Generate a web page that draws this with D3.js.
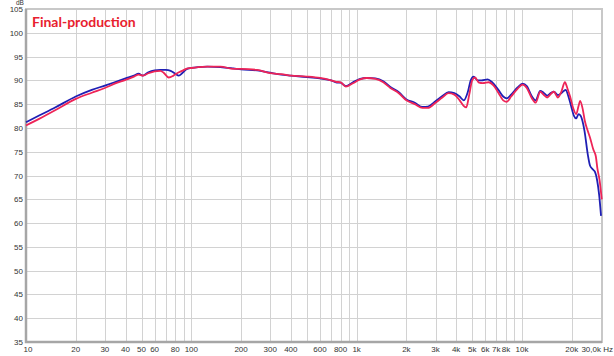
<!DOCTYPE html>
<html>
<head>
<meta charset="utf-8">
<script src="https://cdn.jsdelivr.net/npm/d3@7"></script>
<style>
  body { margin: 0; background: #fff; }
  svg { display: block; }
  .tick-label { font-family: "Liberation Sans", Arial, sans-serif; font-size: 8px; fill: #333; }
</style>
</head>
<body>
<div id="chart"></div>
<script>
// measured response, blue trace
const freqBlue = [10, 12, 15, 20, 25, 30, 35, 40, 45, 48, 51, 55, 60, 65, 70, 75, 80, 84, 88, 93, 100, 110, 125, 150, 180, 200, 250, 300, 350, 400, 500, 600, 700, 750, 800, 860, 950, 1050, 1150, 1300, 1450, 1600, 1800, 2000, 2250, 2500, 2700, 3000, 3300, 3600, 3900, 4200, 4450, 4700, 4900, 5100, 5400, 5700, 6200, 6600, 7200, 7700, 8100, 8600, 9400, 10100, 10700, 11500, 12100, 12900, 13500, 14200, 15000, 15600, 16500, 17300, 18400, 19000, 19800, 20600, 21300, 22000, 22600, 23900, 25000, 25800, 26800, 27700, 28500, 29300, 30100];
const dbBlue = [81.2, 82.6, 84.3, 86.6, 88.0, 88.9, 89.7, 90.4, 91.0, 91.4, 91.0, 91.7, 92.1, 92.2, 92.2, 92.0, 91.4, 91.0, 91.5, 92.3, 92.6, 92.8, 92.9, 92.8, 92.5, 92.3, 92.1, 91.6, 91.2, 91.0, 90.7, 90.4, 90.0, 89.6, 89.5, 88.8, 89.6, 90.3, 90.5, 90.4, 89.8, 88.6, 87.5, 86.0, 85.3, 84.4, 84.5, 85.6, 86.7, 87.5, 87.3, 86.6, 85.8, 87.5, 90.0, 90.8, 90.0, 90.0, 90.2, 89.6, 88.0, 86.6, 86.2, 87.0, 88.5, 89.3, 88.8, 86.6, 85.8, 87.8, 87.4, 86.8, 87.4, 87.6, 86.9, 87.3, 88.0, 86.9, 84.7, 82.6, 82.0, 82.9, 82.6, 79.4, 74.5, 72.1, 71.3, 70.7, 69.0, 66.0, 61.5];

// measured response, red trace
const freqRed = [10, 12, 15, 20, 25, 30, 35, 40, 45, 48, 51, 55, 60, 65, 68, 73, 78, 82, 88, 93, 100, 110, 125, 150, 180, 200, 250, 300, 350, 400, 500, 600, 700, 750, 800, 860, 950, 1050, 1150, 1300, 1450, 1600, 1800, 2000, 2250, 2500, 2700, 3000, 3300, 3600, 3900, 4200, 4450, 4600, 4800, 5000, 5200, 5500, 5800, 6300, 6700, 7200, 7700, 8100, 8600, 9400, 10100, 10700, 11500, 12100, 12900, 13500, 14200, 15000, 15600, 16500, 17300, 18200, 18800, 19600, 20400, 21300, 22000, 22500, 23300, 24000, 25000, 25900, 27000, 28000, 28600, 29500, 30400];
const dbRed = [80.5, 81.9, 83.7, 86.1, 87.4, 88.4, 89.4, 90.1, 90.8, 91.2, 91.0, 91.5, 91.9, 92.0, 91.6, 90.6, 91.0, 91.5, 92.0, 92.4, 92.6, 92.8, 92.9, 92.9, 92.4, 92.4, 92.2, 91.5, 91.3, 91.0, 90.8, 90.5, 90.0, 89.7, 89.6, 88.7, 89.4, 90.2, 90.5, 90.3, 89.6, 88.4, 87.3, 85.8, 85.0, 84.2, 84.2, 85.3, 86.4, 87.3, 87.0, 85.8, 84.6, 84.3, 87.0, 90.0, 90.6, 89.5, 89.4, 89.6, 89.0, 87.4, 85.8, 85.5, 86.6, 88.2, 89.1, 88.4, 86.2, 85.3, 87.6, 87.0, 86.4, 87.2, 87.6, 86.4, 87.6, 89.6, 88.4, 86.5, 84.2, 82.9, 84.6, 85.7, 84.0, 81.5, 79.4, 77.8, 75.5, 74.0, 71.5, 69.0, 65.0];

const xLabelValues = [10, 20, 30, 40, 50, 60, 80, 100, 200, 300, 400, 600, 800, 1000, 2000, 3000, 4000, 5000, 6000, 7000, 8000, 10000, 20000];
const xLabelTexts  = ['10', '20', '30', '40', '50', '60', '80', '100', '200', '300', '400', '600', '800', '1k', '2k', '3k', '4k', '5k', '6k', '7k', '8k', '10k', '20k'];
const xGridValues = [20, 30, 40, 50, 60, 70, 80, 90, 100, 200, 300, 400, 500, 600, 700, 800, 900, 1000, 2000, 3000, 4000, 5000, 6000, 7000, 8000, 9000, 10000, 20000];
const yTicks = [35, 40, 45, 50, 55, 60, 65, 70, 75, 80, 85, 90, 95, 100, 105];

const W = 614, H = 356;
const plotL = 26, plotR = 602, plotT = 9, plotB = 342;

const svg = d3.select('#chart').append('svg').attr('width', W).attr('height', H);

const x = d3.scaleLog().domain([10, 30500]).range([plotL, plotR]);
const y = d3.scaleLinear().domain([35, 105]).range([plotB, plotT]);

// grid
const grid = svg.append('g').attr('shape-rendering', 'crispEdges');
grid.selectAll('line.v').data(xGridValues).join('line')
  .attr('x1', d => Math.round(x(d)) + 0.5).attr('x2', d => Math.round(x(d)) + 0.5)
  .attr('y1', plotT).attr('y2', plotB)
  .attr('stroke', '#d2d2d2');
grid.selectAll('line.h').data(yTicks).join('line')
  .attr('x1', plotL).attr('x2', plotR)
  .attr('y1', d => Math.round(y(d)) + 0.5).attr('y2', d => Math.round(y(d)) + 0.5)
  .attr('stroke', '#d2d2d2');

// frame
svg.append('rect').attr('x', plotL).attr('y', plotT).attr('width', plotR - plotL).attr('height', plotB - plotT)
  .attr('fill', 'none').attr('stroke', '#c8c8c8').attr('stroke-width', 2);
svg.append('path').attr('d', `M${plotL},${plotT} V${plotB} H${plotR}`)
  .attr('fill', 'none').attr('stroke', '#a6a6a6').attr('stroke-width', 2.5);

// axes labels
svg.append('g').selectAll('text').data(yTicks).join('text')
  .attr('class', 'tick-label')
  .attr('x', plotL - 3).attr('y', d => y(d) + 3)
  .attr('text-anchor', 'end')
  .text(d => d);
svg.append('text').attr('class', 'tick-label').attr('x', 16).attr('y', 5).style('font-size', '6.5px').text('dB');

svg.append('g').selectAll('text').data(xLabelValues).join('text')
  .attr('class', 'tick-label')
  .attr('x', d => x(d) + (d === 10 ? 2 : 0)).attr('y', 352)
  .attr('text-anchor', 'middle')
  .text((d, i) => xLabelTexts[i]);
svg.append('text').attr('class', 'tick-label').attr('x', 613).attr('y', 352)
  .attr('text-anchor', 'end').text('30,0k Hz');

// traces
const line = d3.line().curve(d3.curveMonotoneX).x(d => x(d[0])).y(d => y(d[1]));
svg.append('path').datum(d3.zip(freqBlue, dbBlue))
  .attr('d', line).attr('fill', 'none').attr('stroke', '#1f1fb4').attr('stroke-width', 1.8);
svg.append('path').datum(d3.zip(freqRed, dbRed))
  .attr('d', line).attr('fill', 'none').attr('stroke', '#ee2457').attr('stroke-width', 1.8);

// title
svg.append('text').attr('x', 32).attr('y', 27)
  .attr('font-family', 'Lato, sans-serif').attr('font-weight', 700).attr('font-size', 14)
  .attr('fill', '#e8212e').text('Final-production');
</script>
</body>
</html>
